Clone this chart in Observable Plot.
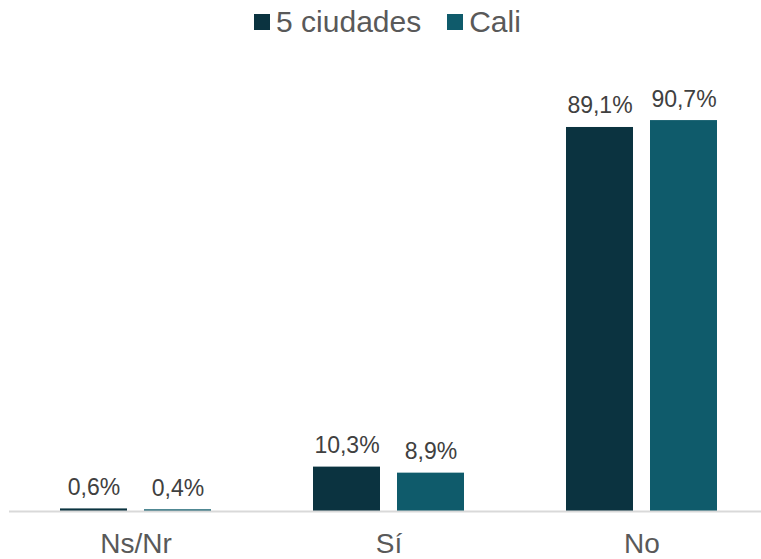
<!DOCTYPE html>
<html><head><meta charset="utf-8">
<script src="https://cdn.jsdelivr.net/npm/d3@7"></script>
<script src="https://cdn.jsdelivr.net/npm/@observablehq/plot@0.6"></script>
<style>
body{margin:0;background:#fff;font-family:"Liberation Sans",Arial,sans-serif;}
#legend{height:44px;display:flex;justify-content:center;align-items:center;gap:26px;font-size:30px;color:#595959;padding-left:14px;box-sizing:border-box;}
.item{display:flex;align-items:center;gap:6px;}
.sw{width:16px;height:16px;display:inline-block;}
</style></head><body>
<div id="legend"></div>
<div id="chart"></div>
<script>
const categories = ["Ns/Nr", "Sí", "No"];
const series = ["5 ciudades", "Cali"];
const values5 = [0.6, 10.3, 89.1];
const valuesCali = [0.4, 8.9, 90.7];
const colors = ["#0b3340", "#0f5b6b"];

const data = [];
categories.forEach((c, i) => {
  data.push({cat: c, serie: series[0], v: values5[i]});
  data.push({cat: c, serie: series[1], v: valuesCali[i]});
});
const fmt = v => v.toFixed(1).replace(".", ",") + "%";

const leg = document.getElementById("legend");
series.forEach((s, i) => {
  const it = document.createElement("div"); it.className = "item";
  const sw = document.createElement("span"); sw.className = "sw"; sw.style.background = colors[i];
  const t = document.createElement("span"); t.textContent = s;
  it.append(sw, t); leg.append(it);
});

const chart = Plot.plot({
  width: 761, height: 515,
  marginLeft: 8, marginRight: -8, marginTop: 36, marginBottom: 48,
  style: {fontFamily: "'Liberation Sans', Arial, sans-serif", color: "#595959", background: "#fff"},
  fx: {domain: categories, padding: 0, label: null},
  x: {domain: series, paddingInner: 0.2, paddingOuter: 0.591, axis: null},
  y: {domain: [0, 100], axis: null},
  color: {domain: series, range: colors},
  marks: [
    Plot.axisFx({anchor: "bottom", tickSize: 0, tickPadding: 22, fontSize: 28, fill: "#595959", label: null}),
    Plot.barY(data, {fx: "cat", x: "serie", y: "v", fill: "serie"}),
    Plot.ruleY([0], {stroke: "#d9d9d9", strokeWidth: 2}),
    Plot.text(data, {fx: "cat", x: "serie", y: "v", text: d => fmt(d.v), lineAnchor: "bottom", dy: -14, fontSize: 23, fill: "#404040"})
  ]
});
document.getElementById("chart").append(chart);
</script>
</body></html>
